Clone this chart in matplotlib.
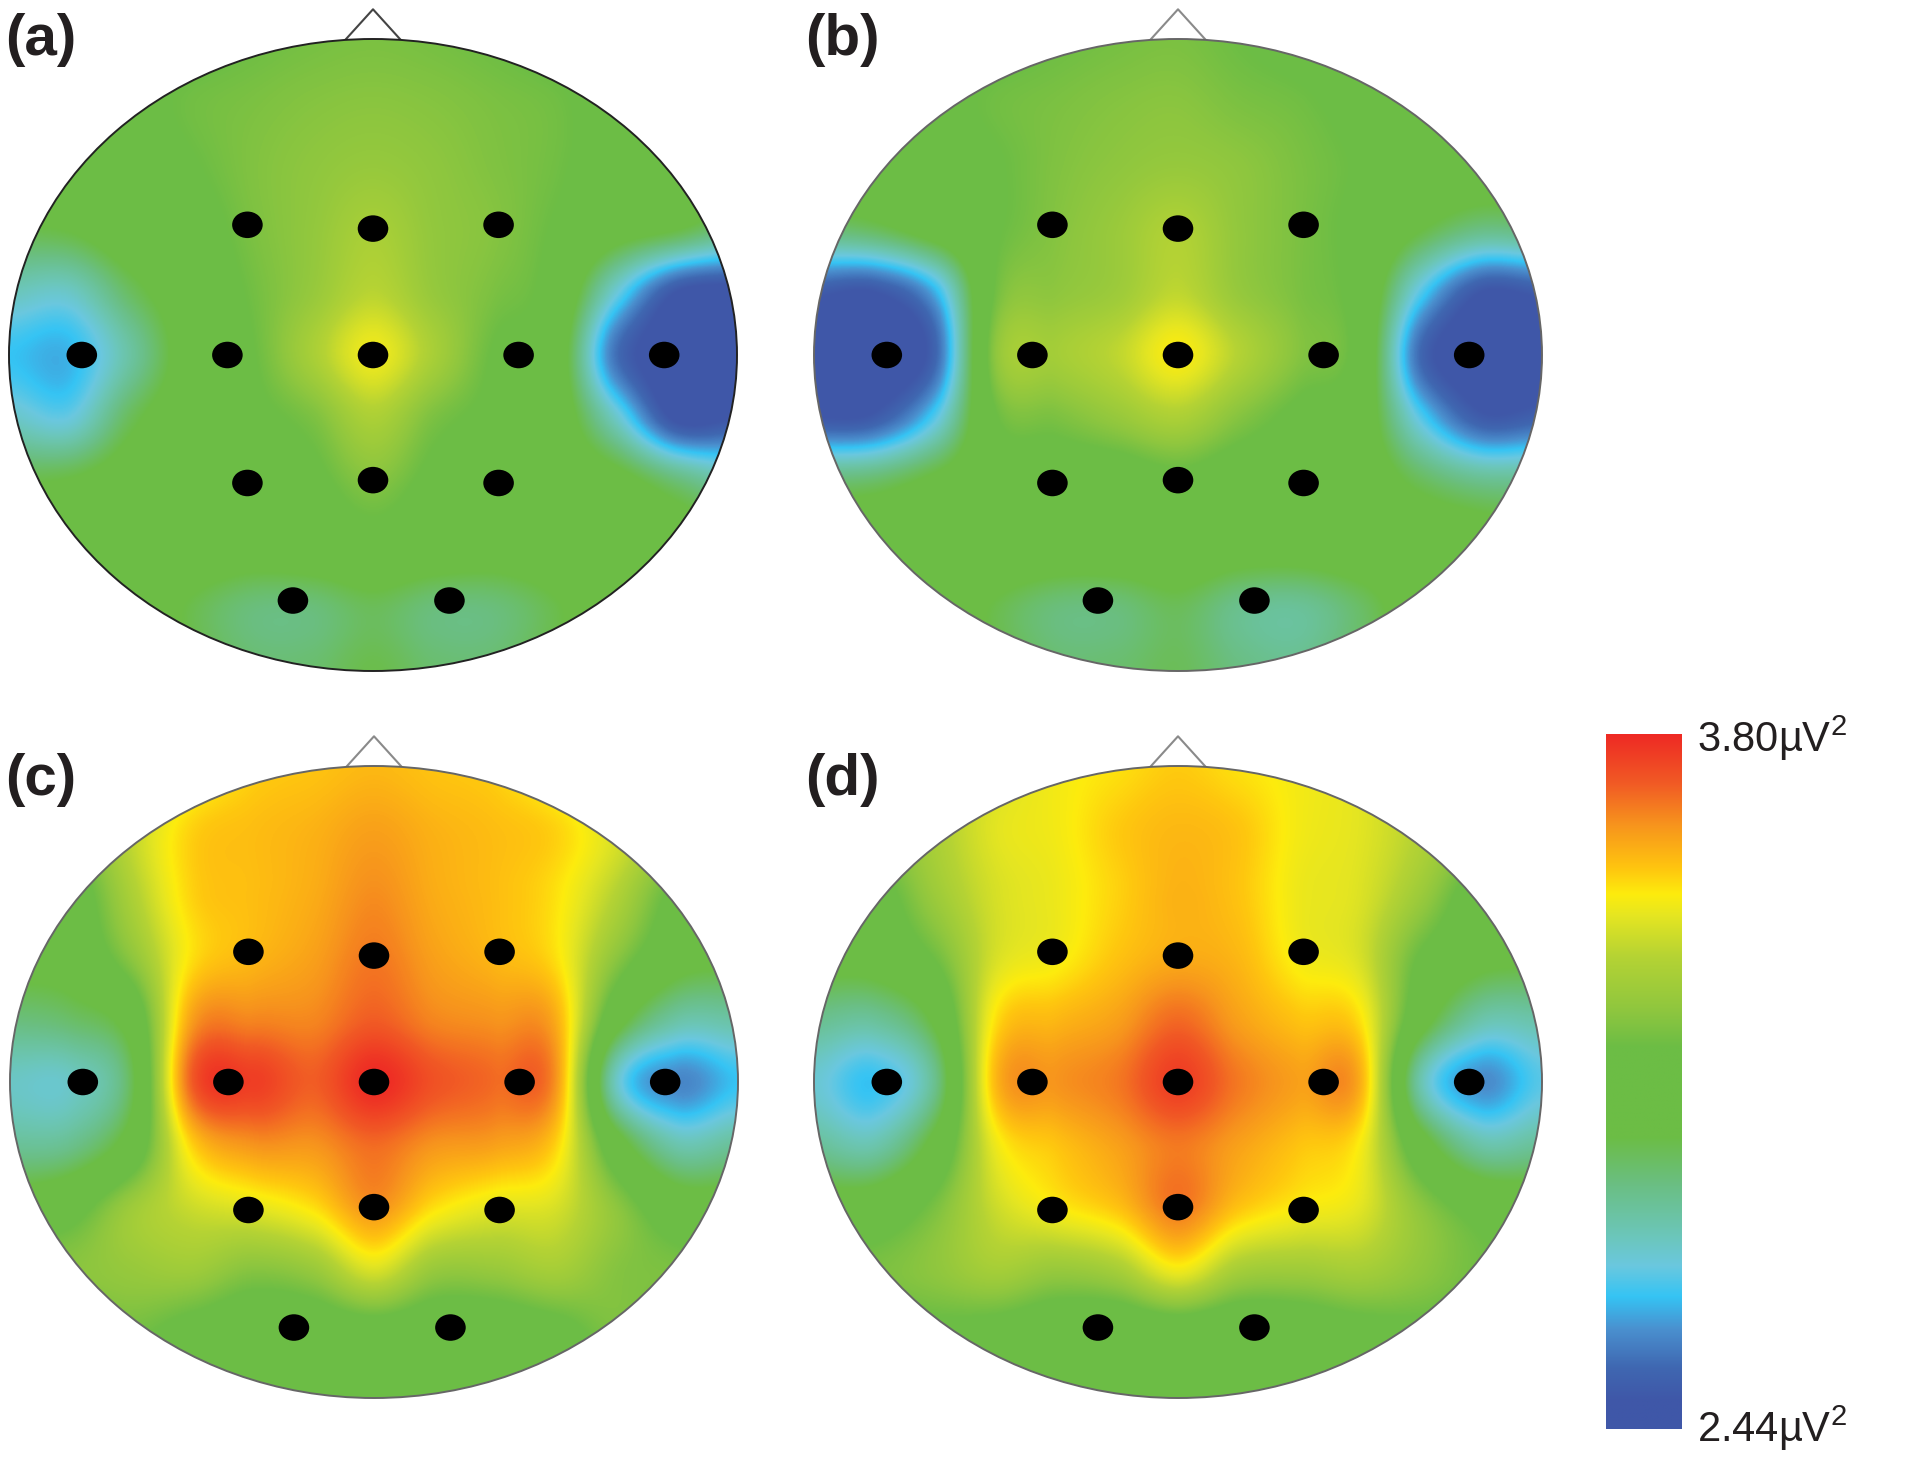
import numpy as np
import matplotlib
matplotlib.use('Agg')
import matplotlib.pyplot as plt
from matplotlib.colors import LinearSegmentedColormap
from matplotlib.patches import Ellipse

plt.rcParams['font.family'] = ['Liberation Sans', 'DejaVu Sans']
plt.rcParams['mathtext.default'] = 'regular'

map_a = [
    [3.14, 3.14, 3.14, 3.16, 3.19, 3.21, 3.22, 3.21, 3.19, 3.16, 3.14, 3.14, 3.14],
    [3.14, 3.14, 3.16, 3.20, 3.22, 3.24, 3.25, 3.24, 3.22, 3.20, 3.15, 3.14, 3.14],
    [3.10, 3.10, 3.12, 3.18, 3.23, 3.26, 3.28, 3.26, 3.23, 3.20, 3.14, 3.10, 3.10],
    [3.00, 3.02, 3.10, 3.14, 3.22, 3.27, 3.33, 3.27, 3.24, 3.18, 3.08, 3.02, 2.92],
    [2.82, 2.80, 2.97, 3.10, 3.20, 3.28, 3.37, 3.28, 3.22, 3.14, 2.78, 2.50, 2.46],
    [2.70, 2.68, 2.86, 3.08, 3.18, 3.33, 3.46, 3.33, 3.18, 3.10, 2.58, 2.44, 2.44],
    [2.80, 2.76, 2.98, 3.10, 3.16, 3.22, 3.34, 3.22, 3.16, 3.10, 2.80, 2.48, 2.50],
    [3.00, 3.02, 3.08, 3.10, 3.12, 3.16, 3.24, 3.16, 3.12, 3.10, 3.06, 2.94, 2.84],
    [3.10, 3.10, 3.10, 3.10, 3.08, 3.10, 3.14, 3.10, 3.08, 3.10, 3.10, 3.08, 3.05],
    [3.10, 3.10, 3.10, 3.00, 2.93, 2.93, 2.98, 2.93, 2.93, 3.00, 3.10, 3.10, 3.10],
    [3.10, 3.10, 3.10, 3.02, 2.95, 2.95, 3.00, 2.95, 2.95, 3.02, 3.10, 3.10, 3.10],
]
map_b = [
    [3.14, 3.14, 3.14, 3.16, 3.19, 3.21, 3.22, 3.19, 3.16, 3.14, 3.12, 3.12, 3.12],
    [3.14, 3.14, 3.16, 3.20, 3.22, 3.24, 3.25, 3.22, 3.20, 3.16, 3.12, 3.12, 3.12],
    [3.10, 3.10, 3.12, 3.18, 3.23, 3.26, 3.28, 3.26, 3.22, 3.18, 3.12, 3.10, 3.10],
    [2.94, 2.98, 3.08, 3.18, 3.24, 3.29, 3.35, 3.27, 3.22, 3.16, 3.02, 2.92, 2.94],
    [2.52, 2.50, 2.68, 3.20, 3.26, 3.30, 3.38, 3.28, 3.22, 3.14, 2.74, 2.50, 2.52],
    [2.44, 2.44, 2.55, 3.26, 3.32, 3.38, 3.48, 3.36, 3.24, 3.14, 2.56, 2.44, 2.44],
    [2.50, 2.52, 2.74, 3.18, 3.22, 3.28, 3.34, 3.24, 3.16, 3.10, 2.74, 2.52, 2.54],
    [2.94, 2.96, 3.04, 3.12, 3.12, 3.12, 3.16, 3.12, 3.12, 3.10, 2.98, 2.90, 2.90],
    [3.10, 3.10, 3.10, 3.12, 3.10, 3.10, 3.12, 3.08, 3.08, 3.10, 3.10, 3.08, 3.04],
    [3.10, 3.10, 3.10, 3.00, 2.93, 2.93, 2.98, 2.90, 2.88, 2.96, 3.08, 3.10, 3.10],
    [3.08, 3.08, 3.08, 3.02, 2.95, 2.95, 2.98, 2.92, 2.90, 2.98, 3.06, 3.08, 3.08],
]
map_c = [
    [3.20, 3.20, 3.30, 3.44, 3.52, 3.54, 3.56, 3.54, 3.52, 3.44, 3.30, 3.20, 3.20],
    [3.15, 3.20, 3.38, 3.52, 3.55, 3.57, 3.60, 3.57, 3.55, 3.52, 3.42, 3.30, 3.20],
    [3.10, 3.12, 3.34, 3.52, 3.55, 3.58, 3.63, 3.58, 3.55, 3.50, 3.36, 3.16, 3.10],
    [3.06, 3.08, 3.26, 3.50, 3.56, 3.60, 3.66, 3.60, 3.56, 3.50, 3.26, 3.08, 3.04],
    [2.93, 2.96, 3.08, 3.60, 3.64, 3.64, 3.70, 3.64, 3.62, 3.58, 3.08, 2.86, 2.86],
    [2.80, 2.80, 2.98, 3.70, 3.76, 3.70, 3.80, 3.72, 3.68, 3.62, 2.80, 2.62, 2.70],
    [2.88, 2.90, 3.08, 3.52, 3.62, 3.62, 3.68, 3.62, 3.60, 3.52, 3.08, 2.84, 2.88],
    [3.08, 3.14, 3.30, 3.40, 3.44, 3.50, 3.62, 3.50, 3.44, 3.42, 3.26, 3.10, 3.08],
    [3.25, 3.25, 3.28, 3.30, 3.24, 3.28, 3.42, 3.28, 3.28, 3.32, 3.24, 3.22, 3.20],
    [3.16, 3.16, 3.20, 3.14, 3.10, 3.10, 3.12, 3.10, 3.10, 3.14, 3.22, 3.16, 3.16],
    [3.12, 3.12, 3.12, 3.12, 3.12, 3.12, 3.12, 3.12, 3.12, 3.12, 3.12, 3.12, 3.12],
]
map_d = [
    [3.30, 3.30, 3.35, 3.42, 3.47, 3.50, 3.53, 3.50, 3.47, 3.44, 3.35, 3.30, 3.30],
    [3.22, 3.24, 3.34, 3.44, 3.47, 3.53, 3.56, 3.54, 3.47, 3.44, 3.36, 3.26, 3.22],
    [3.12, 3.14, 3.30, 3.42, 3.46, 3.52, 3.57, 3.54, 3.46, 3.43, 3.30, 3.12, 3.10],
    [3.06, 3.08, 3.20, 3.42, 3.47, 3.54, 3.58, 3.56, 3.47, 3.42, 3.18, 3.06, 3.04],
    [2.90, 2.88, 3.04, 3.50, 3.56, 3.60, 3.68, 3.60, 3.54, 3.50, 3.08, 2.85, 2.85],
    [2.78, 2.70, 2.90, 3.56, 3.62, 3.66, 3.76, 3.66, 3.60, 3.58, 2.84, 2.63, 2.74],
    [2.88, 2.84, 3.06, 3.46, 3.54, 3.60, 3.66, 3.60, 3.54, 3.48, 3.08, 2.85, 2.88],
    [3.08, 3.10, 3.22, 3.40, 3.48, 3.54, 3.66, 3.54, 3.48, 3.44, 3.26, 3.14, 3.10],
    [3.22, 3.22, 3.26, 3.32, 3.28, 3.32, 3.46, 3.32, 3.30, 3.32, 3.26, 3.20, 3.20],
    [3.14, 3.14, 3.16, 3.14, 3.10, 3.08, 3.10, 3.08, 3.10, 3.14, 3.16, 3.14, 3.14],
    [3.12, 3.12, 3.12, 3.12, 3.12, 3.12, 3.12, 3.12, 3.12, 3.12, 3.12, 3.12, 3.12],
]

# electrodes in head coordinates
elec_x = [-0.345, 0, 0.345, -0.80, -0.40, 0, 0.40, 0.80, -0.345, 0, 0.345, -0.22, 0.21]
elec_y = [0.412, 0.40, 0.412, 0, 0, 0, 0, 0, -0.405, -0.396, -0.405, -0.777, -0.777]

panel_labels = ['(a)', '(b)', '(c)', '(d)']
vmin = 2.44
vmax = 3.80
bar_labels = ['3.80\u00b5V$^2$', '2.44\u00b5V$^2$']

stops = [0.0, 0.04, 0.087, 0.143, 0.19, 0.234, 0.28, 0.35, 0.42, 0.55, 0.60, 0.68, 0.74, 0.77, 0.807, 0.87, 0.93, 1.0]
stop_colors = ['#3f57a8', '#3f57a8', '#3f67b1', '#4a90cf', '#35c4f4', '#6ac8df', '#6cc6b8', '#6abf84',
               '#6cbd45', '#6cbd45', '#8dc63f', '#b5d334', '#e6e621', '#fdec0d', '#ffc60f', '#f7941d',
               '#f15a25', '#ee2a24']
cmap = LinearSegmentedColormap.from_list('power', list(zip(stops, stop_colors)), N=512)

W = 1920
H = 1460
fig = plt.figure(figsize=(W / 100, H / 100), dpi=100, facecolor='white')


def px_axes(x0, y0, x1, y1):
    return fig.add_axes([x0 / W, 1 - y1 / H, (x1 - x0) / W, (y1 - y0) / H])


def draw_head(cx, cy, values, label, label_x, label_y, head_color, nose_color):
    ax = px_axes(cx - 364, cy - 316, cx + 364, cy + 316)
    ax.set_xlim(-1, 1)
    ax.set_ylim(-1, 1)
    ax.axis('off')
    dx = 2 / 12 / 2
    dy = 2 / 10 / 2
    im = ax.imshow(values, cmap=cmap, vmin=vmin, vmax=vmax, interpolation='catrom', aspect='auto',
                   extent=(-1 - dx, 1 + dx, -1 - dy, 1 + dy), origin='upper')
    head = Ellipse((0, 0), 2, 2, facecolor='none', edgecolor=head_color, linewidth=1.4, clip_on=False, zorder=3)
    ax.add_patch(head)
    im.set_clip_path(Ellipse((0, 0), 2, 2, transform=ax.transData))
    ax.plot([-0.074, 0, 0.074], [1.0, 1.094, 1.0], color=nose_color, linewidth=1.5, clip_on=False, zorder=2)
    for x, y in zip(elec_x, elec_y):
        ax.add_patch(Ellipse((x, y), 0.084, 0.084, facecolor='black', edgecolor='none', zorder=4))
    ax.set_xlim(-1, 1)
    ax.set_ylim(-1, 1)
    fig.text(label_x / W, 1 - label_y / H, label, fontsize=42, fontweight='bold', color='#231f20',
             ha='left', va='center')


draw_head(373, 355, map_a, panel_labels[0], 5, 40, '#222222', '#444444')
draw_head(1178, 355, map_b, panel_labels[1], 805, 40, '#666666', '#8a8a8a')
draw_head(374, 1082, map_c, panel_labels[2], 5, 780, '#666666', '#8a8a8a')
draw_head(1178, 1082, map_d, panel_labels[3], 805, 780, '#666666', '#8a8a8a')

# colour bar
cax = px_axes(1606, 734, 1682, 1429)
cax.imshow(np.linspace(vmax, vmin, 512).reshape(-1, 1), cmap=cmap, vmin=vmin, vmax=vmax, aspect='auto')
cax.axis('off')
fig.text(1697 / W, 1 - 738 / H, bar_labels[0], fontsize=30, color='#231f20', ha='left', va='center')
fig.text(1697 / W, 1 - 1428 / H, bar_labels[1], fontsize=30, color='#231f20', ha='left', va='center')

fig.savefig('out.png', dpi=100, facecolor='white')
